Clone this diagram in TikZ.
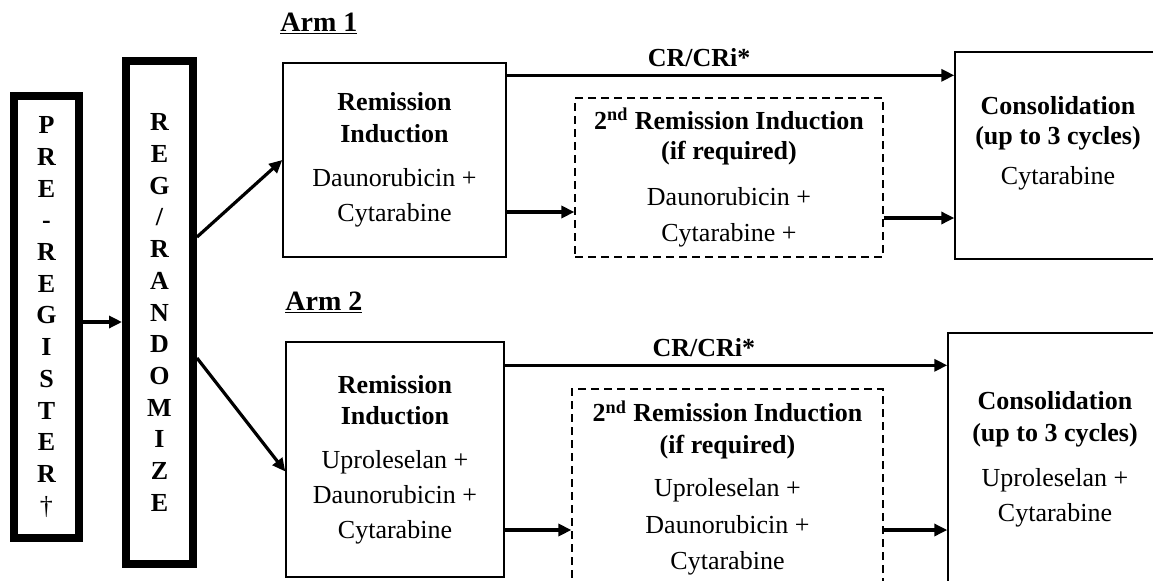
\documentclass[tikz,border=0pt]{standalone}
\usepackage{fontspec}
\setmainfont{Liberation Serif}
\usetikzlibrary{positioning,calc,arrows.meta}

\tikzset{
  box/.style={draw, line width=0.7pt, inner sep=0pt, align=center},
  dashbox/.style={draw, line width=0.6pt, dash pattern=on 4pt off 2.5pt, inner sep=0pt, align=center},
  tallbox/.style={draw, line width=4pt, inner sep=0pt, align=center, font=\bfseries\fontsize{13}{15.85}\selectfont},
  flow/.style={-{Triangle[length=6.5pt,width=6pt]}, line width=1.6pt},
  txt/.style={inner sep=0pt, align=center},
  armlabel/.style={inner sep=0pt, anchor=base west, font=\bfseries\fontsize{14}{16}\selectfont}
}

\begin{document}
\begin{tikzpicture}[x=0.5pt, y=-0.5pt, every node/.style={font=\fontsize{13}{17.5}\selectfont}]
    \useasboundingbox (0,0) rectangle (1153,580);
    \clip (0,0) rectangle (1153,580);

    % Pre-register and randomize
    \node [tallbox, minimum width=32.5pt, minimum height=221pt] (pre) at (46.5,317)
        {P\\R\\E\\-\\R\\E\\G\\I\\S\\T\\E\\R\\{\mdseries †}};
    \node [tallbox, minimum width=33.5pt, minimum height=251.5pt] (reg) at (159.5,312.5)
        {R\\E\\G\\/\\R\\A\\N\\D\\O\\M\\I\\Z\\E};
    \draw [flow] ([yshift=-2.5pt]pre.east) -- ([yshift=-2.5pt]pre.east -| reg.west);

    % Arm 1
    \node [armlabel] (arm1) at (280,31) {\underline{Arm 1}};
    \node [box, minimum width=111.5pt, minimum height=97pt] (rem1) at (394.5,160)
        {\textbf{Remission}\\[-1.5pt]\textbf{Induction}\\[4.5pt]Daunorubicin +\\Cytarabine};
    \node [dashbox, minimum width=154pt, minimum height=79.5pt] (sec1) at (729,177.5)
        {\textbf{2\textsuperscript{nd} Remission Induction}\\[-2.5pt]\textbf{(if required)}\\[5.5pt]Daunorubicin +\\[0.5pt]Cytarabine +};
    \node [box, minimum width=130pt, minimum height=103.5pt] (con1) at (1085,155.5) {};
    \node [txt] (con1txt) at (1058,143)
        {\textbf{Consolidation}\\[-2.5pt]\textbf{(up to 3 cycles)}\\[2.5pt]Cytarabine};
    \draw [flow] ([yshift=37.75pt]reg.east) -- (rem1.west);
    \draw [flow] ([yshift=-6.5pt]rem1.north east) -- ([yshift=-6.5pt]rem1.north east -| con1.west)
        node [pos=0.43, above, font=\bfseries\fontsize{13}{15}\selectfont] (cr1) {CR/CRi*};
    \draw [flow] ([yshift=-26pt]rem1.east) -- ([yshift=-26pt]rem1.east -| sec1.west);
    \draw [flow] ([yshift=-20.25pt]sec1.east) -- ([yshift=-20.25pt]sec1.east -| con1.west);

    % Arm 2
    \node [armlabel] (arm2) at (285,310) {\underline{Arm 2}};
    \node [box, minimum width=109pt, minimum height=117.5pt] (rem2) at (395,459.5)
        {\textbf{Remission}\\[-2pt]\textbf{Induction}\\[4.5pt]Uproleselan +\\Daunorubicin +\\Cytarabine};
    \node [dashbox, minimum width=155.5pt, minimum height=99pt] (sec2) at (727.5,488)
        {\textbf{2\textsuperscript{nd} Remission Induction}\\[-1.5pt]\textbf{(if required)}\\[4pt]Uproleselan +\\[1pt]Daunorubicin +\\[0.5pt]Cytarabine};
    \node [box, minimum width=130pt, minimum height=150pt] (con2) at (1078,483) {};
    \node [txt] (con2txt) at (1055,459)
        {\textbf{Consolidation}\\[-1.5pt]\textbf{(up to 3 cycles)}\\[5pt]Uproleselan +\\Cytarabine};
    \draw [flow] ([yshift=-22.75pt]reg.east) -- ([yshift=-6pt]rem2.west);
    \draw [flow] ([yshift=-12pt]rem2.north east) -- ([yshift=-12pt]rem2.north east -| con2.west)
        node [pos=0.45, above, font=\bfseries\fontsize{13}{15}\selectfont] (cr2) {CR/CRi*};
    \draw [flow] ([yshift=-35.25pt]rem2.east) -- ([yshift=-35.25pt]rem2.east -| sec2.west);
    \draw [flow] ([yshift=-21pt]sec2.east) -- ([yshift=-21pt]sec2.east -| con2.west);
\end{tikzpicture}
\end{document}
